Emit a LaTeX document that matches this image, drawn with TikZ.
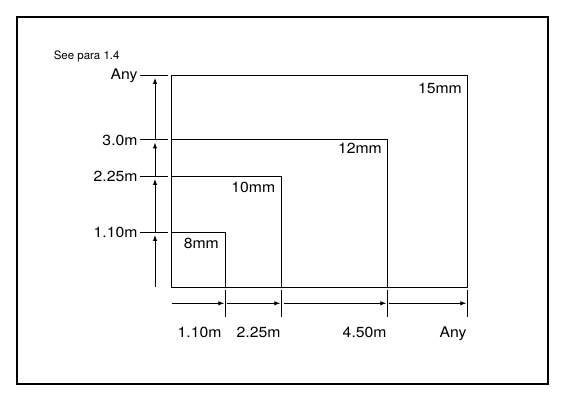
\documentclass[tikz,border=0pt]{standalone}
\usepackage{fontspec}
\setmainfont{TeX Gyre Heros}
\newfontfamily\lblfont[FakeStretch=1.08]{TeX Gyre Heros}
\usetikzlibrary{arrows.meta}
\begin{document}
\begin{tikzpicture}[x=1pt,y=-1pt,line width=0.9pt,
  dim/.style={-{Latex[length=6pt,width=4.4pt]},line width=0.85pt},
  tick/.style={line width=0.85pt},
  lbl/.style={font=\lblfont\fontsize{14.6}{16}\selectfont,inner sep=0pt},
  note/.style={font=\fontsize{11.5}{13}\selectfont,inner sep=0pt}]
\useasboundingbox (0,0) rectangle (563,401);
\draw[line width=2.2pt] (17,17) rectangle (548,384);
% key coordinates
\coordinate (BL) at (171.5,287);
\coordinate (TR) at (467.7,75.3);
\coordinate (L3) at (171.5,139.7);
\coordinate (L2) at (171.5,176);
\coordinate (L1) at (171.5,232.3);
\coordinate (B3) at (387.7,287);
\coordinate (B2) at (281.7,287);
\coordinate (B1) at (225.7,287);
% rectangles
\draw (BL) rectangle (TR);
\draw (L3) -| (B3);
\draw (L2) -| (B2);
\draw (L1) -| (B1);
% left ticks
\foreach \n/\y in {tA/75.3,t3/139.7,t2/176,t1/232.3}{
  \coordinate (\n a) at (140,\y);
  \coordinate (\n b) at (168,\y);
  \draw[tick] (\n a) -- (\n b);
}
% vertical dimension arrows
\coordinate (v0) at (155,287);
\coordinate (v1t) at (155,235);
\coordinate (v1) at (155,232.3);
\coordinate (v2t) at (155,179);
\coordinate (v2) at (155,176);
\coordinate (v3t) at (155,142.5);
\coordinate (v3) at (155,139.7);
\coordinate (vAt) at (155,78);
\draw[dim] (v0) -- (v1t);
\draw[dim] (v1) -- (v2t);
\draw[dim] (v2) -- (v3t);
\draw[dim] (v3) -- (vAt);
% bottom ticks
\foreach \n/\x in {b1/225.7,b2/281.7,b3/387.7,b4/467.7}{
  \coordinate (\n a) at (\x,290);
  \coordinate (\n b) at (\x,316.7);
  \draw[tick] (\n a) -- (\n b);
}
% horizontal dimension arrows
\coordinate (h0) at (171.5,303.3);
\coordinate (h1t) at (224.3,303.3);
\coordinate (h1) at (226.7,303.3);
\coordinate (h2t) at (280.3,303.3);
\coordinate (h2) at (283.5,303.3);
\coordinate (h3t) at (386.3,303.3);
\coordinate (h3) at (388.7,303.3);
\coordinate (h4t) at (466.3,303.3);
\draw[dim] (h0) -- (h1t);
\draw[dim] (h1) -- (h2t);
\draw[dim] (h2) -- (h3t);
\draw[dim] (h3) -- (h4t);
% left labels
\node[lbl,anchor=base east] (lA) at (138,79.8) {Any};
\node[lbl,anchor=base east] (l3) at (138,145.2) {3.0m};
\node[lbl,anchor=base east] (l2) at (138,181.3) {2.25m};
\node[lbl,anchor=base east] (l1) at (138,237.6) {1.10m};
% bottom labels
\node[lbl,anchor=base east] (x1) at (222,337.3) {1.10m};
\node[lbl,anchor=base east] (x2) at (281,337.3) {2.25m};
\node[lbl,anchor=base east] (x3) at (387,337.3) {4.50m};
\node[lbl,anchor=base east] (x4) at (467,337.3) {Any};
% inner labels
\node[lbl,anchor=base east] (m15) at (462.3,93.3) {15mm};
\node[lbl,anchor=base east] (m12) at (382.3,153.3) {12mm};
\node[lbl,anchor=base east] (m10) at (275.7,192.7) {10mm};
\node[lbl,anchor=base east] (m8) at (219.3,249) {8mm};
% note
\node[note,anchor=base west] (see) at (53.3,59.5) {See para 1.4};
\end{tikzpicture}
\end{document}
